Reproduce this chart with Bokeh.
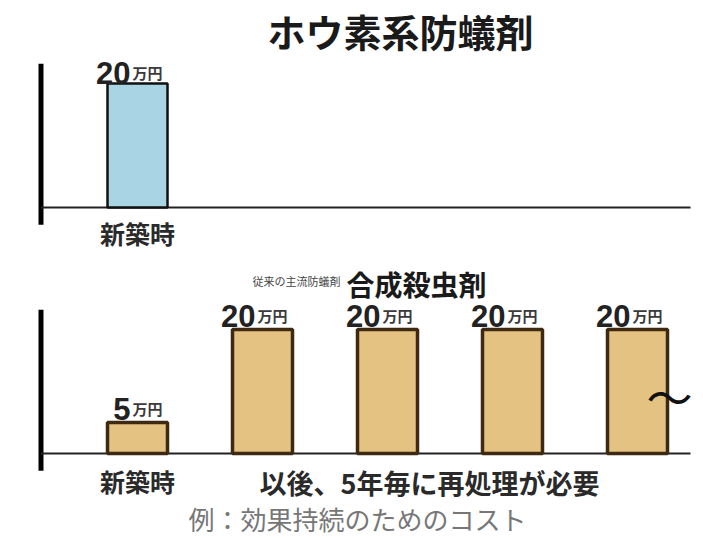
from bokeh.plotting import figure
from bokeh.layouts import column
from bokeh.models import Range1d, ColumnDataSource
from bokeh.core.properties import value
from bokeh.embed import file_html
from bokeh.resources import INLINE

# ---------------- data ----------------
title_text = "ホウ素系防蟻剤"
boron_cats = ["新築時"]
boron_values = [20]

synth_title = "合成殺虫剤"
synth_note = "従来の主流防蟻剤"
synth_values = [5, 20, 20, 20, 20]
unit_text = "万円"
first_label = "新築時"
rest_label = "以後、5年毎に再処理が必要"
caption_text = "例：効果持続のためのコスト"

# ---------------- layout constants ----------------
W = 703
H_TOP = 258
H_BOT = 280
PX_X = 125.0     # pixels per bar slot
X0 = 137.0       # pixel of slot 0 centre
PX_Y = 6.2       # pixels per value unit
JP = "Noto Sans CJK JP"
BAR_W = 0.48
TOP_BASE = 207   # baseline pixel row, top panel
BOT_BASE = 453   # baseline pixel row, bottom panel


def dx(px):
    return (px - X0) / PX_X


def dy(py, base):
    return (base - py) / PX_Y


def make_fig(h, base_from_bottom):
    p = figure(width=W, height=h,
               x_range=Range1d(-X0 / PX_X, (W - X0) / PX_X),
               y_range=Range1d(-base_from_bottom / PX_Y, (h - base_from_bottom) / PX_Y),
               output_backend="svg", toolbar_location=None,
               x_axis_location=None, y_axis_location=None,
               min_border=0, min_border_left=0, min_border_right=0,
               min_border_top=0, min_border_bottom=0)
    p.grid.visible = False
    p.outline_line_color = None
    p.background_fill_color = "white"
    p.border_fill_color = "white"
    return p


def draw_panel(p, values, fill, line_color, line_width, gap):
    n = len(values)
    vmax = max(values)
    xs = list(range(n))
    src = ColumnDataSource(dict(x=xs, top=values,
                                num=[str(v) for v in values],
                                unit=[unit_text] * n))
    ax = dx(40.5)
    p.segment(x0=[ax], y0=[-0.14 * vmax], x1=[ax], y1=[1.16 * vmax],
              line_color="black", line_width=5)
    p.segment(x0=[ax], y0=[0], x1=[dx(690)], y1=[0],
              line_color="#222222", line_width=2)
    p.vbar(x="x", top="top", bottom=0, width=BAR_W, source=src,
           fill_color=fill, line_color=line_color, line_width=line_width)
    p.text(x="x", y="top", text="num", source=src, text_align="right",
           text_baseline="alphabetic", x_offset=-7, y_offset=-gap,
           text_font=value("Liberation Sans"), text_font_style="bold",
           text_font_size="31px", text_color="#222222")
    p.text(x="x", y="top", text="unit", source=src, text_align="left",
           text_baseline="alphabetic", x_offset=-5, y_offset=-gap,
           text_font=value(JP), text_font_style="bold",
           text_font_size="15px", text_color="#3a3a3a")
    return src


# ---------------- top panel ----------------
top = make_fig(H_TOP, H_TOP - TOP_BASE)
draw_panel(top, boron_values, "#a9d4e3", "#111111", 2.5, 11)
top.text(x=[dx(400)], y=[dy(30, TOP_BASE)], text=[title_text], text_align="center",
         text_baseline="middle", text_font=value(JP), text_font_style="bold",
         text_font_size="38px", text_color="#1a1a1a")
top.text(x=list(range(len(boron_cats))), y=[0], text=boron_cats, text_align="center",
         text_baseline="top", y_offset=7, text_font=value(JP), text_font_style="bold",
         text_font_size="25px", text_color="#2a2a2a")

# ---------------- bottom panel (starts at pixel row H_TOP) ----------------
bot = make_fig(H_BOT, H_TOP + H_BOT - BOT_BASE)
draw_panel(bot, synth_values, "#e4c281", "#3e2a12", 3.5, 14)
bot.text(x=[dx(346)], y=[dy(283, BOT_BASE)], text=[synth_title], text_align="left",
         text_baseline="alphabetic", text_font=value(JP), text_font_style="bold",
         text_font_size="28px", text_color="#1a1a1a")
bot.text(x=[dx(340)], y=[dy(280, BOT_BASE)], text=[synth_note], text_align="right",
         text_baseline="alphabetic", text_font=value(JP),
         text_font_size="11px", text_color="#444444")
bot.text(x=[0], y=[0], text=[first_label], text_align="center",
         text_baseline="top", y_offset=9, text_font=value(JP), text_font_style="bold",
         text_font_size="25px", text_color="#2a2a2a")
bot.text(x=[dx(429)], y=[0], text=[rest_label], text_align="center",
         text_baseline="top", y_offset=9, text_font=value(JP), text_font_style="bold",
         text_font_size="27px", text_color="#2a2a2a")
bot.text(x=[dx(357)], y=[dy(518, BOT_BASE)], text=[caption_text], text_align="center",
         text_baseline="middle", text_font=value(JP),
         text_font_size="26px", text_color="#777777")
bot.text(x=[dx(669)], y=[dy(394, BOT_BASE)], text=["〜"], text_align="center",
         text_baseline="middle", text_font=value(JP),
         text_font_size="46px", text_color="#111111")

layout = column(top, bot, spacing=0)
open("out.html", "w").write(file_html(layout, INLINE))
